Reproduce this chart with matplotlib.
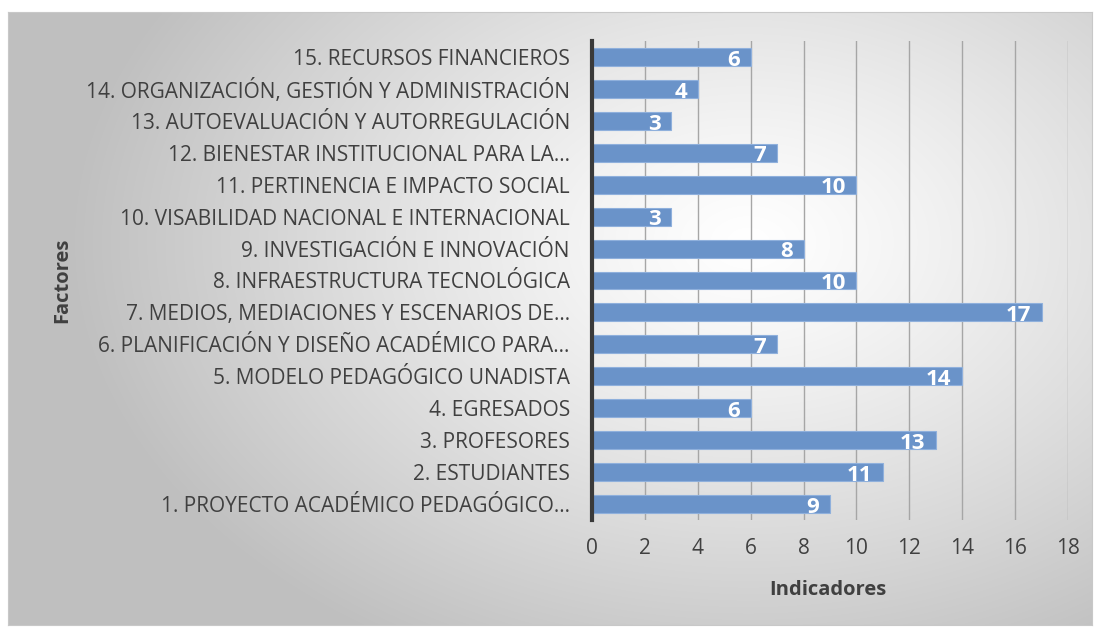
import numpy as np
import matplotlib
matplotlib.use("Agg")
import matplotlib.pyplot as plt

factores = [
    "1. PROYECTO ACADÉMICO PEDAGÓGICO…",
    "2. ESTUDIANTES",
    "3. PROFESORES",
    "4. EGRESADOS",
    "5. MODELO PEDAGÓGICO UNADISTA",
    "6. PLANIFICACIÓN Y DISEÑO ACADÉMICO PARA…",
    "7. MEDIOS, MEDIACIONES Y ESCENARIOS DE…",
    "8. INFRAESTRUCTURA TECNOLÓGICA",
    "9. INVESTIGACIÓN E INNOVACIÓN",
    "10. VISABILIDAD NACIONAL E INTERNACIONAL",
    "11. PERTINENCIA E IMPACTO SOCIAL",
    "12. BIENESTAR INSTITUCIONAL PARA LA…",
    "13. AUTOEVALUACIÓN Y AUTORREGULACIÓN",
    "14. ORGANIZACIÓN, GESTIÓN Y ADMINISTRACIÓN",
    "15. RECURSOS FINANCIEROS",
]
indicadores = [9, 11, 13, 6, 14, 7, 17, 10, 8, 3, 10, 7, 3, 4, 6]
x_ticks = list(range(0, 19, 2))

plt.rcParams["font.family"] = ["Open Sans", "DejaVu Sans"]
text_color = "#404040"

fig = plt.figure(figsize=(10.96, 6.28), dpi=100)

# chart area background: radial grey-to-white gradient with a thin frame
bg = fig.add_axes([8 / 1096, 1 - 625 / 628, 1084 / 1096, 613 / 628])
h, w = 613, 1084
yy, xx = np.mgrid[0:h, 0:w]
r = np.sqrt(((xx - 740) / 680.0) ** 2 + ((yy - 230) / 470.0) ** 2)
r = np.clip(r, 0, 1)
shade = 1.0 - 0.25 * r ** 1.2
bg.imshow(np.dstack([shade] * 3), aspect="auto", extent=[0, 1, 0, 1])
bg.set_xticks([])
bg.set_yticks([])
for s in bg.spines.values():
    s.set_color("#c8c8c8")
    s.set_linewidth(0.8)

ax = fig.add_axes([592 / 1096, 1 - 520 / 628, 476 / 1096, 479 / 628])
ax.patch.set_alpha(0)
y = np.arange(len(factores))
bars = ax.barh(y, indicadores, height=0.56, color="#6a93c9",
               edgecolor="#8fb0dc", linewidth=0.8, zorder=3)
ax.set_xlim(0, 18)
ax.set_ylim(-0.5, len(factores) - 0.5)
ax.set_xticks(x_ticks)
ax.set_xticklabels([str(t) for t in x_ticks])
ax.set_yticks(y)
ax.set_yticklabels(factores)
ax.tick_params(axis="both", length=0, colors=text_color, labelsize=15)
ax.tick_params(axis="x", pad=13)
ax.tick_params(axis="y", pad=16)
ax.grid(axis="x", color="#a6a6a6", linewidth=1.0, zorder=0)
for side in ["top", "right", "bottom"]:
    ax.spines[side].set_visible(False)
ax.spines["left"].set_color("#3a3a3a")
ax.spines["left"].set_linewidth(3)
ax.spines["left"].set_zorder(4)

for b, v in zip(bars, indicadores):
    ax.text(b.get_width() - 0.4, b.get_y() + b.get_height() / 2 - 0.1, str(v),
            ha="right", va="center", color="white", fontsize=16,
            fontweight="bold", zorder=5)

fig.text(828 / 1096, 1 - 590 / 628, "Indicadores", ha="center", va="center",
         fontsize=14.5, fontweight="bold", color=text_color)
fig.text(62 / 1096, 1 - 280 / 628, "Factores", ha="center", va="center",
         rotation=90, fontsize=14.5, fontweight="bold", color=text_color)

fig.savefig("out.png", dpi=100)
